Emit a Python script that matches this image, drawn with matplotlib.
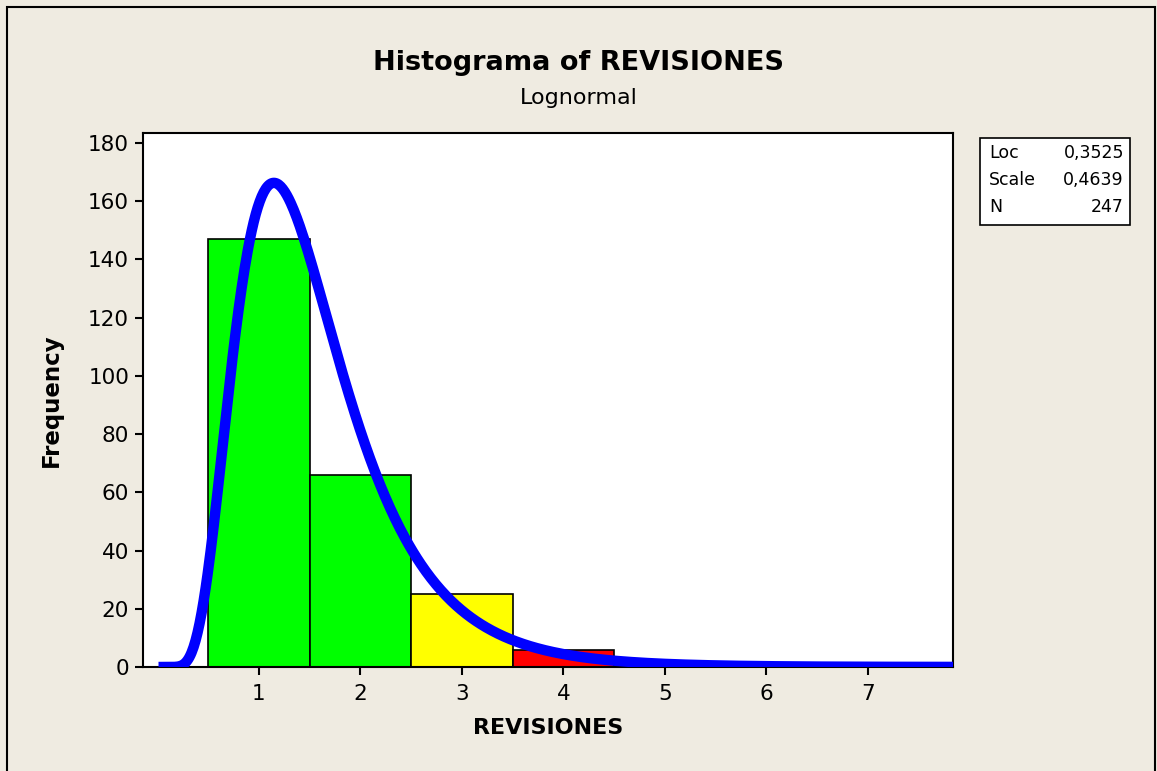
import numpy as np
import matplotlib
matplotlib.use("Agg")
import matplotlib.pyplot as plt
from matplotlib.patches import Rectangle

# histogram bins (centres) and counts
bin_centres = [1, 2, 3, 4]
counts = [147, 66, 25, 6]
bar_colours = ["#00FF00", "#00FF00", "#FFFF00", "#FF0000"]

# fitted lognormal parameters shown in the box
loc = 0.3525
scale = 0.4639
n_obs = 247

x_ticks = [1, 2, 3, 4, 5, 6, 7]
y_ticks = [0, 20, 40, 60, 80, 100, 120, 140, 160, 180]

BG = "#EFEBE1"

plt.rcParams["font.family"] = ["DejaVu Sans"]

fig = plt.figure(figsize=(11.57, 7.71), dpi=100, facecolor=BG)
ax = fig.add_axes([0.1236, 0.1349, 0.700, 0.6926])
ax.set_facecolor("white")

ax.bar(bin_centres, counts, width=1.0, color=bar_colours,
       edgecolor="black", linewidth=1.2, zorder=2)

# fitted density curve, scaled to counts (bin width 1)
xs = np.linspace(0.01, 7.9, 800)
pdf = np.exp(-(np.log(xs) - loc) ** 2 / (2 * scale ** 2)) / (
    xs * scale * np.sqrt(2 * np.pi))
ax.plot(xs, pdf * n_obs * 1.0, color="#0000FF", linewidth=7.5,
        solid_capstyle="butt", zorder=3, clip_on=True)

ax.set_xlim(-0.143, 7.84)
ax.set_ylim(0, 183.4)
ax.set_xticks(x_ticks)
ax.set_yticks(y_ticks)
ax.tick_params(axis="both", direction="out", length=6, width=1.5,
               labelsize=15.5, pad=4, colors="black")
ax.tick_params(axis="x", pad=6)
for sp in ax.spines.values():
    sp.set_linewidth(1.5)
    sp.set_color("black")

ax.set_xlabel("REVISIONES", fontsize=16, fontweight="bold", labelpad=10)
ax.set_ylabel("Frequency", fontsize=16.5, fontweight="bold", labelpad=18)

fig.text(0.5, 0.918, "Histograma of REVISIONES", ha="center", va="center",
         fontsize=19.5, fontweight="bold")
fig.text(0.5, 0.873, "Lognormal", ha="center", va="center", fontsize=16)

# parameter box
bx0, by0 = 980 / 1157, 1 - 225 / 771
bw, bh = 150 / 1157, 87 / 771
fig.patches.append(Rectangle((bx0, by0), bw, bh, transform=fig.transFigure,
                             facecolor="white", edgecolor="black",
                             linewidth=1.2))
rows = [("Loc", f"{loc:.4f}".replace(".", ",")),
        ("Scale", f"{scale:.4f}".replace(".", ",")),
        ("N", str(n_obs))]
for i, (lab, val) in enumerate(rows):
    yy = 1 - (153 + i * 27) / 771
    fig.text(bx0 + 9 / 1157, yy, lab, ha="left", va="center", fontsize=12.5)
    fig.text(bx0 + bw - 6 / 1157, yy, val, ha="right", va="center",
             fontsize=12.5)

# outer frame
fig.patches.append(Rectangle((7 / 1157, -0.01), 1148 / 1157,
                             1 - 7 / 771 + 0.01, transform=fig.transFigure,
                             facecolor="none", edgecolor="black",
                             linewidth=1.5))

fig.savefig("out.png", dpi=100, facecolor=BG)
